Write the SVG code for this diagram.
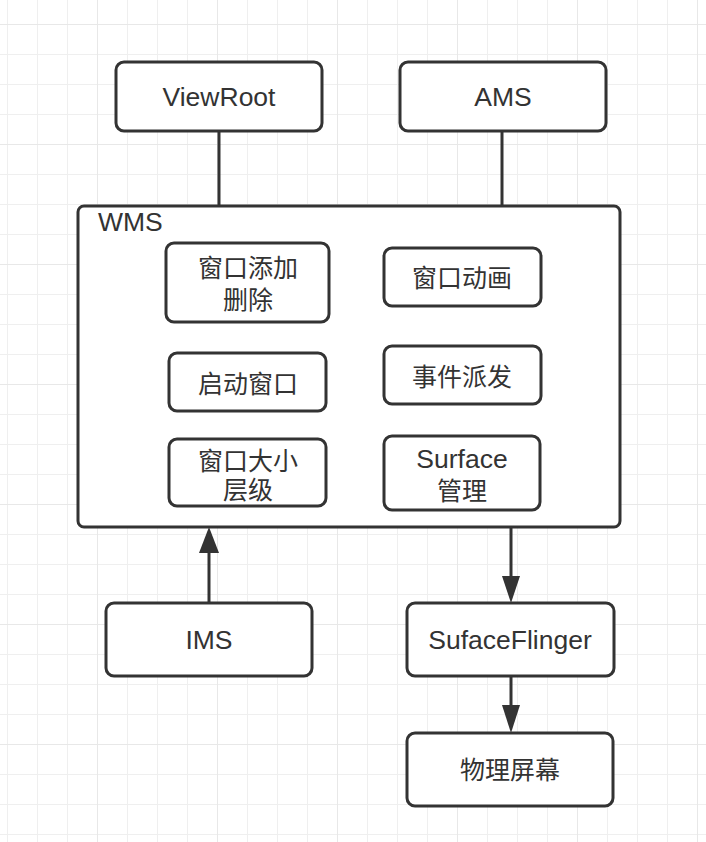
<svg xmlns="http://www.w3.org/2000/svg" width="706" height="842" viewBox="0 0 706 842">
<defs>
<pattern id="minor" x="7" y="24" width="30" height="30" patternUnits="userSpaceOnUse">
<path d="M0 0H30M0 0V30" fill="none" stroke="#efefef" stroke-width="2"/>
</pattern>
<pattern id="major" x="97" y="24" width="120" height="120" patternUnits="userSpaceOnUse">
<path d="M0 0H120M0 0V120" fill="none" stroke="#e8e8e8" stroke-width="2"/>
</pattern>
</defs>
<style>
.box{fill:#fff;stroke:#333;stroke-width:3}
.t{font-family:"Liberation Sans","Noto Sans CJK SC",sans-serif;font-size:25px;fill:#333;text-anchor:middle}
.l{font-size:26.5px}
.c{fill:none;stroke:#333;stroke-width:3}
</style>
<rect width="706" height="842" fill="#fff"/>
<rect width="706" height="842" fill="url(#minor)"/>
<rect width="706" height="842" fill="url(#major)"/>
<g id="connectors">
<path class="c" d="M219 131V206"/>
<path class="c" d="M502 131V206"/>
<path class="c" d="M209 603V552"/>
<polygon points="209,527 199,553 219,553" fill="#333"/>
<path class="c" d="M511 528V578"/>
<polygon points="511,603 502,576 520,576" fill="#333"/>
<path class="c" d="M511 676V708"/>
<polygon points="511,733 502,705 520,705" fill="#333"/>
</g>
<g id="viewroot"><rect class="box" x="116" y="62" width="206" height="69" rx="8"/><text class="t l" x="219" y="106">ViewRoot</text></g>
<g id="ams"><rect class="box" x="400" y="62" width="206" height="69" rx="8"/><text class="t l" x="503" y="106">AMS</text></g>
<g id="wms"><rect class="box" x="78" y="206" width="542" height="321" rx="6"/><text class="t l" x="98" y="231" style="text-anchor:start">WMS</text></g>
<g id="add"><rect class="box" x="166" y="243" width="163" height="79" rx="8"/><text class="t" x="248" y="277">窗口添加</text><text class="t" x="248" y="309">删除</text></g>
<g id="anim"><rect class="box" x="384" y="248" width="157" height="58" rx="8"/><text class="t" x="462" y="287">窗口动画</text></g>
<g id="start"><rect class="box" x="169" y="353" width="157" height="58" rx="8"/><text class="t" x="248" y="393">启动窗口</text></g>
<g id="event"><rect class="box" x="384" y="346" width="157" height="58" rx="8"/><text class="t" x="462" y="386">事件派发</text></g>
<g id="size"><rect class="box" x="169" y="439" width="157" height="67" rx="8"/><text class="t" x="248" y="470">窗口大小</text><text class="t" x="248" y="499">层级</text></g>
<g id="surface"><rect class="box" x="384" y="436" width="156" height="74" rx="8"/><text class="t l" x="462" y="468">Surface</text><text class="t" x="462" y="500">管理</text></g>
<g id="ims"><rect class="box" x="106" y="603" width="206" height="73" rx="8"/><text class="t l" x="209" y="649">IMS</text></g>
<g id="flinger"><rect class="box" x="407" y="603" width="207" height="73" rx="8"/><text class="t l" x="510" y="649">SufaceFlinger</text></g>
<g id="screen"><rect class="box" x="407" y="733" width="206" height="73" rx="8"/><text class="t" x="510" y="779">物理屏幕</text></g>
</svg>
